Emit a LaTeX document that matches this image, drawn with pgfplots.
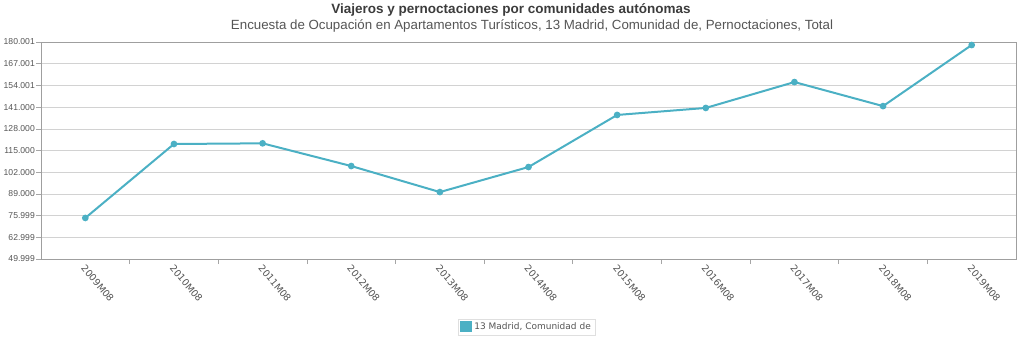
\documentclass[border=0pt]{standalone}
\usepackage{pgfplots}
\pgfplotsset{compat=1.18}
\usepackage{fontspec}
\setmainfont{Liberation Sans}
\newfontfamily\dejavu{DejaVu Sans}
\definecolor{serie}{RGB}{75,176,196}
\definecolor{txt}{RGB}{85,85,85}
\definecolor{ttl}{RGB}{60,60,60}
\begin{document}
\begin{tikzpicture}[x=1pt,y=1pt]
\path[use as bounding box] (0,0) rectangle (1024,-360);
\begin{axis}[
  at={(41pt,-259pt)}, anchor=south west,
  width=975pt, height=217pt, scale only axis,
  xmin=-0.5, xmax=10.5, ymin=49.999, ymax=180.001,
  xtick={0,...,10},
  xticklabels={2009M08,2010M08,2011M08,2012M08,2013M08,2014M08,2015M08,2016M08,2017M08,2018M08,2019M08},
  major x tick style={draw=none},
  minor xtick={0.5,1.5,...,9.5},
  minor x tick style={draw=gray!70, line width=0.8pt},
  minor tick length=5pt,
  ytick={49.999,62.999,75.999,89.000,102.000,115.000,128.000,141.000,154.001,167.001,180.001},
  yticklabels={49.999,62.999,75.999,89.000,102.000,115.000,128.000,141.000,154.001,167.001,180.001},
  major tick length=5pt,
  tick align=outside,
  ytick pos=left, xtick pos=bottom,
  ymajorgrids, grid style={draw=gray!35, line width=0.6pt},
  axis line style={draw=gray!75, line width=1pt},
  y tick style={draw=gray!70, line width=0.6pt},
  /pgf/number format/assume math mode=true,
  yticklabel style={font=\fontsize{8.6}{10}\selectfont, text=txt, inner xsep=1pt},
  xticklabel style={font=\dejavu\fontsize{9.5}{10}\selectfont, text=txt, rotate=-50, anchor=west, xshift=-3pt, yshift=-3pt},
  legend style={at={(0.498,-0.313)}, anchor=center, draw=gray!25, font=\dejavu\fontsize{9}{10}\selectfont, text=txt, inner sep=2pt},
  legend image code/.code={\fill[serie] (0pt,-4.5pt) rectangle (10pt,5pt);},
  clip=false
]
\addplot[serie, line width=2pt, mark=*, mark size=2.3pt, mark options={fill=serie, draw=serie}] coordinates {
(0,74.6) (1,118.9) (2,119.3) (3,105.7) (4,90.1) (5,105.1) (6,136.3) (7,140.5) (8,156.0) (9,141.6) (10,178.2)
};
\addlegendentry{13 Madrid, Comunidad de}
\end{axis}
\node[font=\bfseries\fontsize{13.5}{15}\selectfont, text=ttl] at (511,-9.5) {Viajeros y pernoctaciones por comunidades autónomas};
\node[font=\fontsize{13.3}{15}\selectfont, text=txt] at (532,-25.5) {Encuesta de Ocupación en Apartamentos Turísticos, 13 Madrid, Comunidad de, Pernoctaciones, Total};
\end{tikzpicture}
\end{document}
